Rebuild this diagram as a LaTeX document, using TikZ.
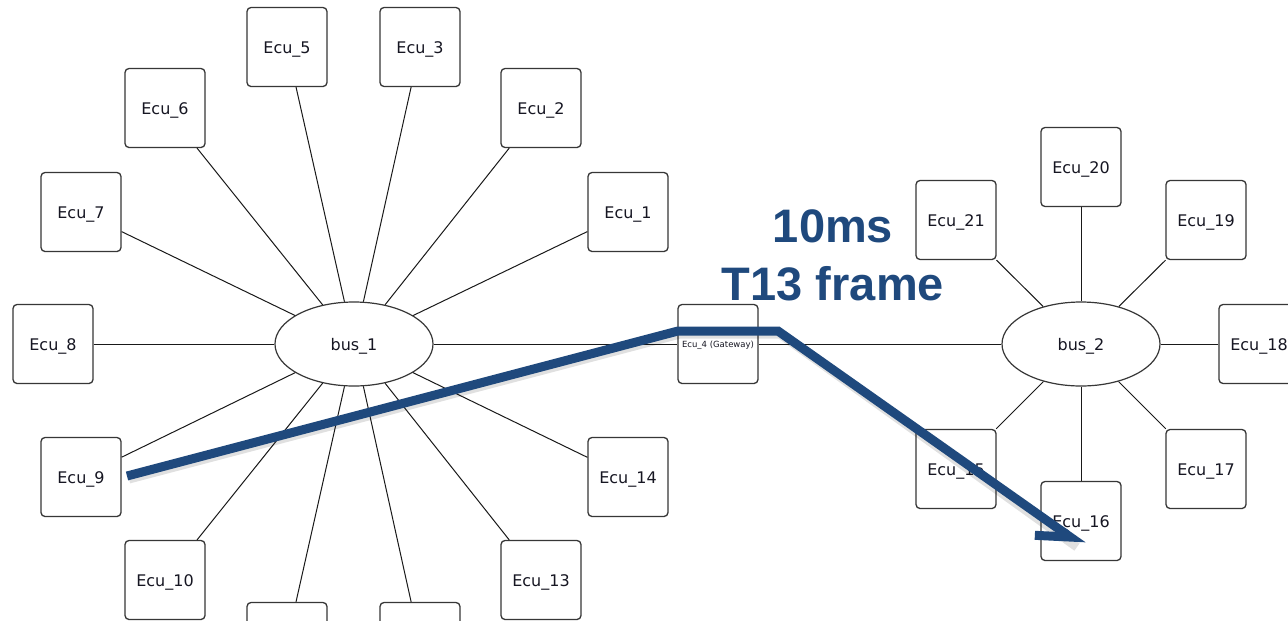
\documentclass[tikz,border=0pt]{standalone}
\usepackage{fontspec}
\usetikzlibrary{shapes.geometric,arrows.meta}
\newfontfamily\ecufont{DejaVu Sans}
\newfontfamily\titlefont{Liberation Sans}
\definecolor{flowblue}{RGB}{31,73,125}
\definecolor{ink}{RGB}{22,22,34}
\definecolor{frame}{RGB}{55,55,55}

\tikzset{
  ecu/.style={draw=frame, line width=1.3pt, rounded corners=4pt,
    minimum width=80pt, minimum height=79pt, inner sep=0pt,
    text height=13.5pt, text depth=0pt,
    font=\ecufont\fontsize{16}{18}\selectfont, text=ink},
  gateway/.style={ecu, text height=7pt, text depth=0pt,
    font=\ecufont\fontsize{8.5}{10}\selectfont},
  bus/.style={ellipse, draw=frame, line width=1.2pt,
    minimum width=158pt, minimum height=84pt, inner sep=0pt,
    text height=13.5pt, text depth=0pt,
    font=\ecufont\fontsize{16}{18}\selectfont, text=ink},
  spoke/.style={draw=black!90, line width=1pt},
  flow/.style={draw=flowblue, line width=9pt, line join=miter,
    -{Straight Barb[harpoon,swap,length=30pt,width=38pt]}},
  flowshade/.style={draw=black, opacity=0.12, line width=9pt, line join=miter},
  caption/.style={text=flowblue, anchor=base,
    font=\titlefont\bfseries\fontsize{47}{50}\selectfont},
}

\begin{document}
\begin{tikzpicture}[x=1pt, y=-1pt]
  \useasboundingbox (0,0) rectangle (1288,622);
  \fill[white] (0,0) rectangle (1288,622);
  \begin{scope}
    \clip (0,0) rectangle (1288,620);

    % first bus and its ECUs
    \node[bus] (bus1) at (354,344) {bus\_1};
    \node[ecu] (e1)  at (628,212) {Ecu\_1};
    \node[ecu] (e2)  at (541,108) {Ecu\_2};
    \node[ecu] (e3)  at (420,47)  {Ecu\_3};
    \node[ecu] (e5)  at (287,47)  {Ecu\_5};
    \node[ecu] (e6)  at (165,108) {Ecu\_6};
    \node[ecu] (e7)  at (81,212)  {Ecu\_7};
    \node[ecu] (e8)  at (53,344)  {Ecu\_8};
    \node[ecu] (e9)  at (81,477)  {Ecu\_9};
    \node[ecu] (e10) at (165,580) {Ecu\_10};
    \node[ecu] (e11) at (287,642) {};
    \node[ecu] (e12) at (420,642) {};
    \node[ecu] (e13) at (541,580) {Ecu\_13};
    \node[ecu] (e14) at (628,477) {Ecu\_14};

    \foreach \n in {e1,e2,e3,e5,e6,e7,e8,e9,e10,e11,e12,e13,e14}
      \draw[spoke] (\n) -- (bus1);

    % gateway
    \node[gateway] (gw) at (718,344) {Ecu\_4 (Gateway)};

    % second bus and its ECUs
    \node[bus] (bus2) at (1081,344) {bus\_2};
    \node[ecu] (e15) at (956,469)  {Ecu\_15};
    \node[ecu] (e16) at (1081,521) {Ecu\_16};
    \node[ecu] (e17) at (1206,469) {Ecu\_17};
    \node[ecu] (e18) at (1259,344) {Ecu\_18};
    \node[ecu] (e19) at (1206,220) {Ecu\_19};
    \node[ecu] (e20) at (1081,167) {Ecu\_20};
    \node[ecu] (e21) at (956,220)  {Ecu\_21};

    \foreach \n in {e15,e16,e17,e18,e19,e20,e21}
      \draw[spoke] (\n) -- (bus2);

    \draw[spoke] (bus1) -- (gw);
    \draw[spoke] (gw) -- (bus2);

    % frame route
    \coordinate (p0) at (127,476);
    \coordinate (p1) at (678,331);
    \coordinate (p2) at (778,331);
    \coordinate (p3) at (1083,546);
    \draw[flowshade] ([xshift=2pt,yshift=-3pt]p0) -- ([xshift=2pt,yshift=-3pt]p1)
      -- ([xshift=2pt,yshift=-3pt]p2) -- ([xshift=-6pt,yshift=-1pt]p3);
    \draw[flow] (p0) -- (p1) -- (p2) -- (p3);

    \node[caption] (t1) at (833,242) {10ms};
    \node[caption] (t2) at (833,300) {T13 frame};
  \end{scope}
\end{tikzpicture}
\end{document}
